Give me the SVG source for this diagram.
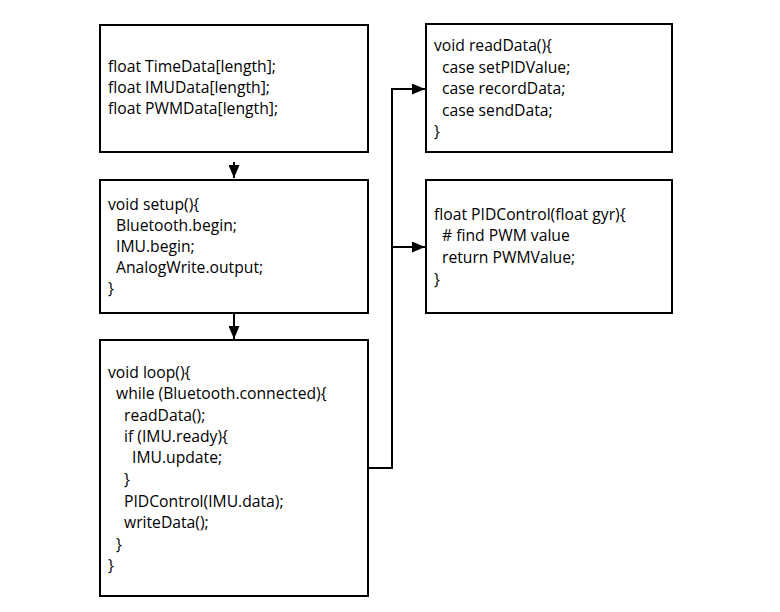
<svg xmlns="http://www.w3.org/2000/svg" width="780" height="612" viewBox="0 0 780 612">
<defs>
<style>
.box{fill:#fff;stroke:#000;stroke-width:2}
.t{font-family:"Open Sans","Liberation Sans",sans-serif;font-size:15.7px;fill:#000}
.c{fill:none;stroke:#000;stroke-width:2}
</style>
<marker id="ah" viewBox="0 0 13 11" refX="13" refY="5.5" markerWidth="13" markerHeight="11" markerUnits="userSpaceOnUse" orient="auto">
<path d="M0,0 L13,5.5 L0,11 Z" fill="#000"/>
</marker>
</defs>
<rect width="780" height="612" fill="#fff"/>
<g id="connectors">
<path class="c" d="M234,162 L234,178" marker-end="url(#ah)"/>
<path class="c" d="M234,313 L234,339" marker-end="url(#ah)"/>
<path class="c" d="M368,468 L392,468 L392,89 L425,89" marker-end="url(#ah)"/>
<path class="c" d="M392,247 L425,247" marker-end="url(#ah)"/>
</g>
<g id="globals">
<rect class="box" x="100" y="25" width="268" height="127"/>
<text class="t" x="108" y="72">float TimeData[length];</text>
<text class="t" x="108" y="93">float IMUData[length];</text>
<text class="t" x="108" y="114">float PWMData[length];</text>
</g>
<g id="setup">
<rect class="box" x="100" y="180" width="268" height="133"/>
<text class="t" x="108" y="210">void setup(){</text>
<text class="t" x="116" y="231">Bluetooth.begin;</text>
<text class="t" x="116" y="252">IMU.begin;</text>
<text class="t" x="116" y="273">AnalogWrite.output;</text>
<text class="t" x="108" y="294">}</text>
</g>
<g id="loop">
<rect class="box" x="100" y="340" width="268" height="256"/>
<text class="t" x="108" y="378">void loop(){</text>
<text class="t" x="116" y="399">while (Bluetooth.connected){</text>
<text class="t" x="124" y="421">readData();</text>
<text class="t" x="124" y="442">if (IMU.ready){</text>
<text class="t" x="132" y="463">IMU.update;</text>
<text class="t" x="124" y="485">}</text>
<text class="t" x="124" y="507">PIDControl(IMU.data);</text>
<text class="t" x="124" y="528">writeData();</text>
<text class="t" x="116" y="550">}</text>
<text class="t" x="108" y="571">}</text>
</g>
<g id="readData">
<rect class="box" x="426" y="24" width="246" height="128"/>
<text class="t" x="434" y="51">void readData(){</text>
<text class="t" x="442" y="73">case setPIDValue;</text>
<text class="t" x="442" y="94">case recordData;</text>
<text class="t" x="442" y="116">case sendData;</text>
<text class="t" x="434" y="137">}</text>
</g>
<g id="pidControl">
<rect class="box" x="426" y="180" width="246" height="133"/>
<text class="t" x="434" y="220">float PIDControl(float gyr){</text>
<text class="t" x="442" y="241"># find PWM value</text>
<text class="t" x="442" y="263">return PWMValue;</text>
<text class="t" x="434" y="285">}</text>
</g>
</svg>
